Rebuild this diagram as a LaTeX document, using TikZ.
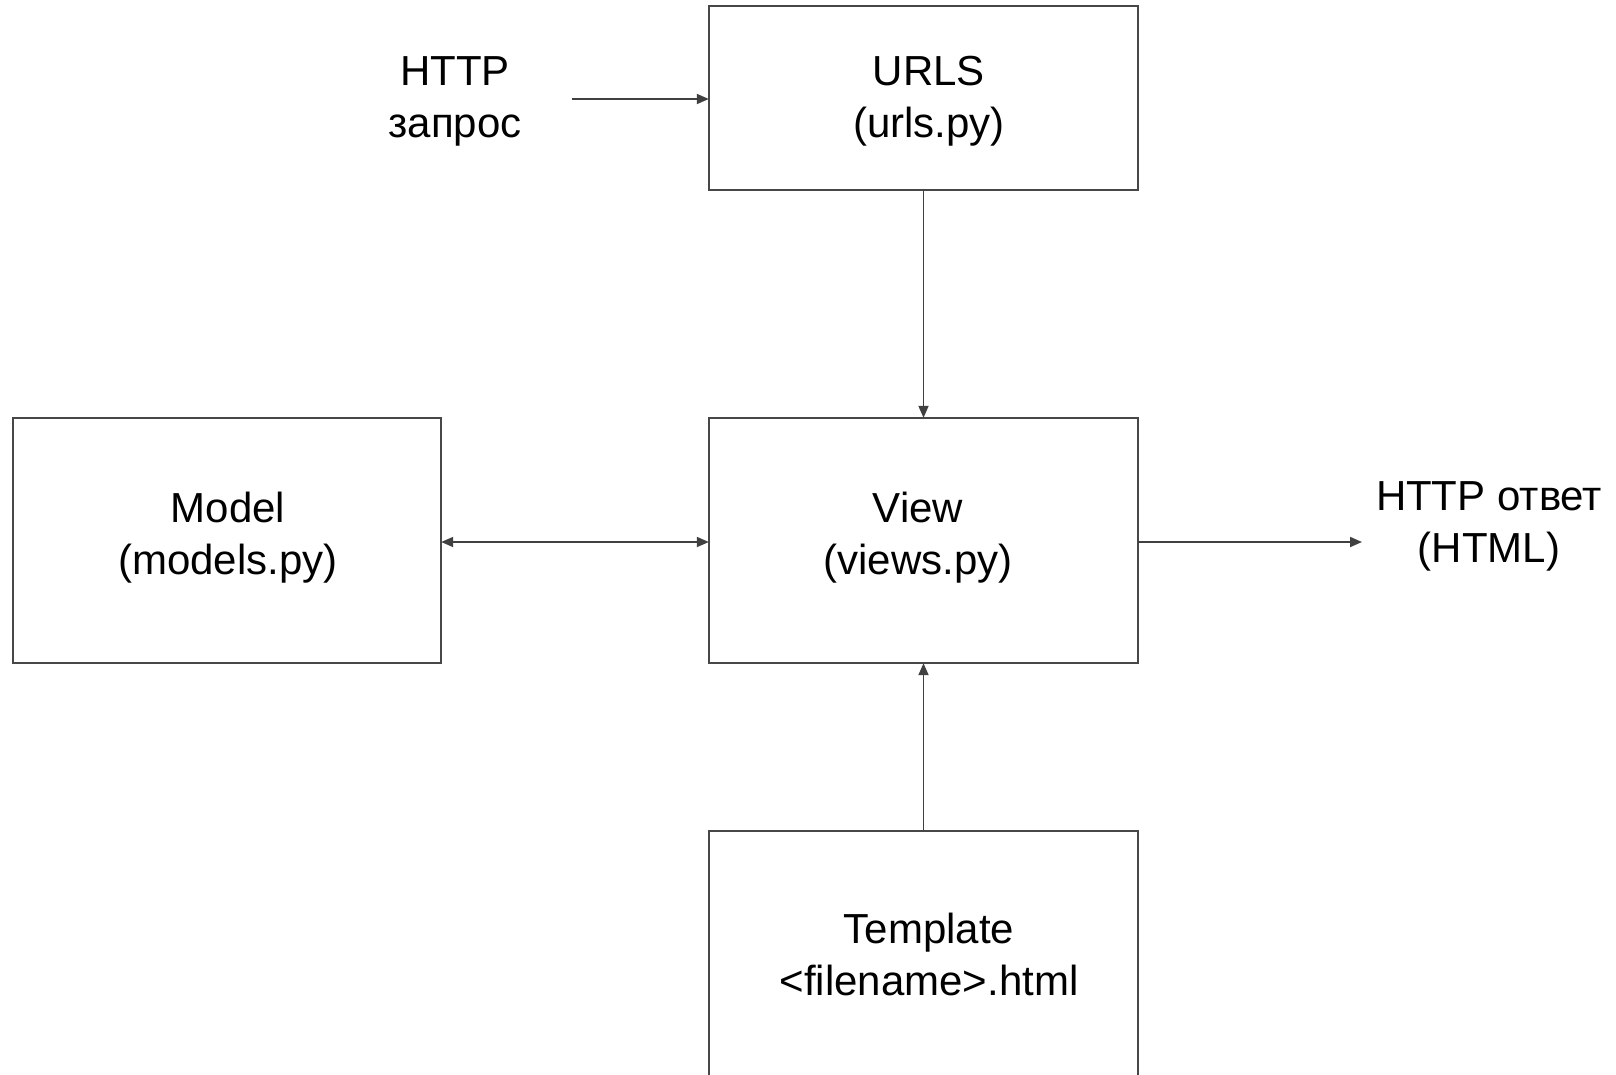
\documentclass[tikz,border=0pt]{standalone}
\usepackage{fontspec}
\setmainfont{Liberation Sans}
\usetikzlibrary{arrows.meta}
\begin{document}
\begin{tikzpicture}[x=1pt,y=-1pt,
  box/.style={draw=black!72,line width=1.8pt,fill=none},
  lbl/.style={align=center,font=\fontsize{42}{52}\selectfont,text=black,inner sep=0pt},
  conn/.style={draw=black!75,line width=1.8pt,-{Triangle[length=12pt,width=10pt]}},
  conn2/.style={draw=black!75,line width=1.8pt,{Triangle[length=12pt,width=10pt]}-{Triangle[length=12pt,width=10pt]}}]
\useasboundingbox (0,0) rectangle (1616,1074);
\clip (0,0) rectangle (1616,1074);
\fill[white] (0,0) rectangle (1616,1074);
% boxes
\path[box] (709,6) rectangle (1138,190);
\node[inner sep=0pt,minimum width=429pt,minimum height=184pt] (urls) at (923.5,98) {};
\path[box] (709,418) rectangle (1138,663);
\node[inner sep=0pt,minimum width=429pt,minimum height=245pt] (view) at (923.5,540.5) {};
\path[box] (13,418) rectangle (441,663);
\node[inner sep=0pt,minimum width=428pt,minimum height=245pt] (model) at (227,540.5) {};
\path[box] (709,831) rectangle (1138,1090);
\node[inner sep=0pt,minimum width=429pt,minimum height=259pt] (tmpl) at (923.5,960.5) {};
% texts
\node[lbl] (urlst) at (929,101) {URLS\\(urls.py)};
\node[lbl] (viewt) at (918,538) {View\\(views.py)};
\node[lbl] (modelt) at (228,538) {Model\\(models.py)};
\node[lbl] (tmplt) at (929,954) {Template\\<filename>.html};
\node[lbl] (req) at (455,101) {HTTP\\запрос};
\node[lbl] (resp) at (1489,526) {HTTP ответ\\(HTML)};
\coordinate (reqend) at (572,99);
\coordinate (respend) at (1362,542);
% connectors
\draw[conn] (reqend) -- (reqend -| urls.west);
\draw[conn] (urls.south) -- (view.north);
\draw[conn2] (model.east |- 0,542) -- (view.west |- 0,542);
\draw[conn] (view.east |- 0,542) -- (respend);
\draw[conn] (tmpl.north) -- (view.south);
\end{tikzpicture}
\end{document}
